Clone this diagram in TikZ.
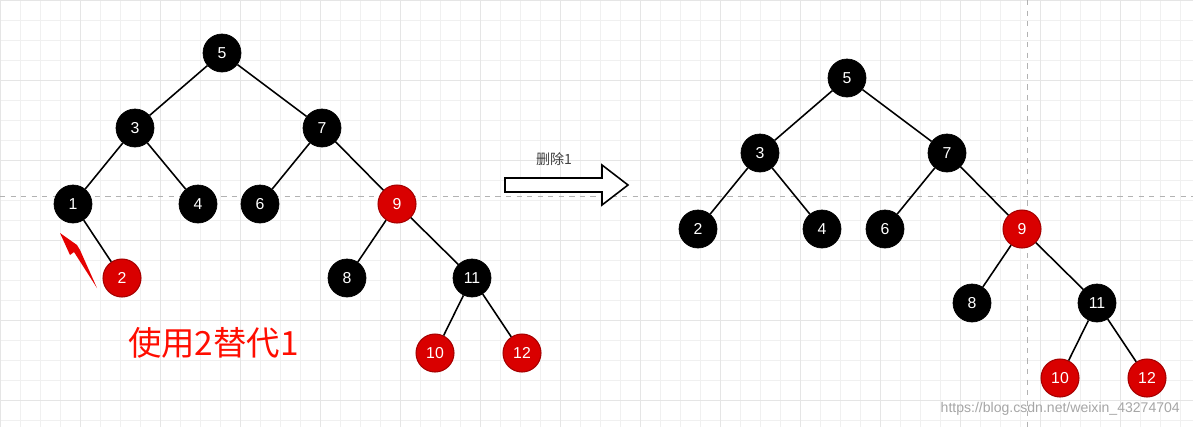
\documentclass[tikz,border=0pt]{standalone}
\usepackage{fontspec}
\setmainfont{Liberation Sans}
\newfontfamily\cjk{Noto Sans CJK SC}
\begin{document}
\begin{tikzpicture}[x=0.02cm,y=-0.02cm,
 bn/.style={circle,draw=black,fill=black,text=white,minimum size=0.76cm,inner sep=0pt,font=\fontsize{9}{10}\selectfont},
 rn/.style={bn,fill=red!85!black,draw=red!65!black,line width=0.6pt},
 ed/.style={line width=0.9pt}]
\useasboundingbox (0,0) rectangle (1193,427);
\fill[white] (0,0) rectangle (1193,427);
\foreach \i in {0,20,...,1180} \draw[black!6,line width=0.3pt] (\i,0) -- (\i,427);
\foreach \j in {0,20,...,420} \draw[black!6,line width=0.3pt] (0,\j) -- (1193,\j);
\foreach \i in {0,80,...,1180} \draw[black!10,line width=0.4pt] (\i,0) -- (\i,427);
\foreach \j in {0,80,...,420} \draw[black!10,line width=0.4pt] (0,\j) -- (1193,\j);
\draw[black!30,dashed,line width=0.4pt] (0,196) -- (1193,196);
\draw[black!30,dashed,line width=0.4pt] (1027,0) -- (1027,427);
% left tree
\node[bn] (a5) at (222,53) {5};
\node[bn] (a3) at (135,128) {3};
\node[bn] (a7) at (322,128) {7};
\node[bn] (a1) at (73,204) {1};
\node[bn] (a4) at (198,204) {4};
\node[bn] (a6) at (260,204) {6};
\node[rn] (a9) at (397,204) {9};
\node[rn] (a2) at (122,278) {2};
\node[bn] (a8) at (347,278) {8};
\node[bn] (a11) at (472,278) {11};
\node[rn] (a10) at (435,353) {10};
\node[rn] (a12) at (522,353) {12};
\foreach \p/\c in {a5/a3,a5/a7,a3/a1,a3/a4,a7/a6,a7/a9,a1/a2,a9/a8,a9/a11,a11/a10,a11/a12} \draw[ed] (\p) -- (\c);
% right tree
\node[bn] (b5) at (847,78) {5};
\node[bn] (b3) at (760,153) {3};
\node[bn] (b7) at (947,153) {7};
\node[bn] (b2) at (698,229) {2};
\node[bn] (b4) at (822,229) {4};
\node[bn] (b6) at (885,229) {6};
\node[rn] (b9) at (1022,229) {9};
\node[bn] (b8) at (972,303) {8};
\node[bn] (b11) at (1097,303) {11};
\node[rn] (b10) at (1060,378) {10};
\node[rn] (b12) at (1147,378) {12};
\foreach \p/\c in {b5/b3,b5/b7,b3/b2,b3/b4,b7/b6,b7/b9,b9/b8,b9/b11,b11/b10,b11/b12} \draw[ed] (\p) -- (\c);
% block arrow
\draw[line width=0.9pt,fill=white] (505,178) -- (602,178) -- (602,165) -- (628,185) -- (602,205) -- (602,192) -- (505,192) -- cycle;
\node[font=\cjk\fontsize{8}{9}\selectfont,text=black!75] (lbl) at (554,159) {删除1};
% red arrow
\coordinate (rs) at (97,288);
\coordinate (re) at (60,233);
\fill[red!90!black] (re) -- (77,245) -- (80,250) -- (97,288) -- (74,252) -- (70,255) -- cycle;
\node[font=\cjk\fontsize{19}{22}\selectfont,text=red!90!orange,anchor=west] (txt) at (122,343) {使用2替代1};
\node[font=\fontsize{8}{9}\selectfont,text=black!35,anchor=east] (wm) at (1186,409) {https://blog.csdn.net/weixin\_43274704};
\end{tikzpicture}
\end{document}
